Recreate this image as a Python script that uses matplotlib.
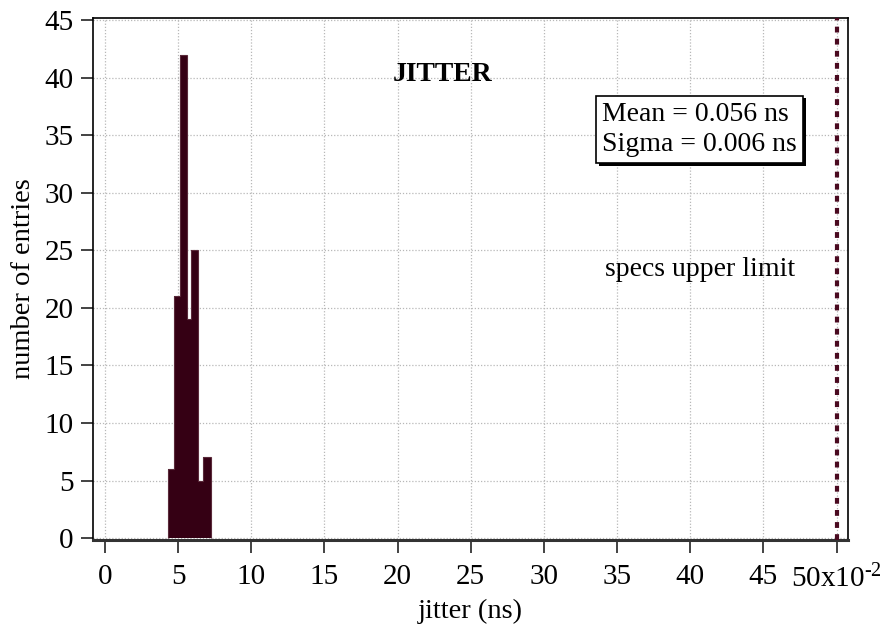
import matplotlib
matplotlib.use("Agg")
import matplotlib.pyplot as plt
import matplotlib.patheffects as pe

plt.rcParams['font.family'] = ['Liberation Serif', 'DejaVu Serif']
plt.rcParams['mathtext.fontset'] = 'custom'
plt.rcParams['mathtext.rm'] = 'Liberation Serif'
plt.rcParams['mathtext.it'] = 'Liberation Serif:italic'

# jitter histogram, x in units of 1e-2 ns
bin_edges = [4.33, 4.74, 5.13, 5.59, 5.88, 6.38, 6.72, 7.23]
counts = [6, 21, 42, 19, 25, 5, 7]
spec_limit = 50
mean_ns = 0.056
sigma_ns = 0.006

x_ticks = [0, 5, 10, 15, 20, 25, 30, 35, 40, 45, 50]
x_labels = [str(t) for t in x_ticks[:-1]] + [r'50x10$^{\text{-}2}$']
y_ticks = [0, 5, 10, 15, 20, 25, 30, 35, 40, 45]

fig = plt.figure(figsize=(8.83, 6.31), dpi=100)
ax = fig.add_axes([0.1053, 0.1442, 0.8551, 0.8273])

bar_col = '#350014'
ax.stairs(counts, bin_edges, fill=True, color=bar_col, zorder=3)
ax.stairs(counts, bin_edges, fill=False, color='#5a2a3a', lw=0.8, zorder=3)

ax.axvline(spec_limit, color='#4a0a20', lw=3.0, linestyle=(0, (1.4, 1.5)), zorder=4)

ax.set_xlim(-0.82, 50.78)
ax.set_ylim(-0.17, 45.19)
ax.set_xticks(x_ticks)
ax.set_xticklabels(x_labels)
ax.set_yticks(y_ticks)

ax.grid(True, color='#b8b8b8', linestyle=(0, (1, 1.5)), lw=0.9, zorder=0)
ax.set_axisbelow(True)

for s in ['top', 'right', 'left']:
    ax.spines[s].set_linewidth(1.2)
    ax.spines[s].set_color('black')
ax.spines['bottom'].set_linewidth(2.2)
ax.spines['bottom'].set_color('#333333')

ax.tick_params(axis='both', direction='out', length=9, width=1.2,
               labelsize=21, color='#222222')
ax.tick_params(axis='x', pad=8.5)
ax.tick_params(axis='y', pad=5)

ax.set_xlabel('jitter (ns)', fontsize=20.5, labelpad=4)
ax.set_ylabel('number of entries', fontsize=20.5, labelpad=6)

ax.text(23.1, 40.3, 'JITTER', fontsize=20, fontweight='bold', ha='center', va='center')
ax.text(40.7, 23.3, 'specs upper limit', fontsize=20, ha='center', va='center')

stats = ax.text(34.0, 35.5, 'Mean = %.3f ns\nSigma = %.3f ns' % (mean_ns, sigma_ns),
                fontsize=20, ha='left', va='center', linespacing=1.3, zorder=5,
                bbox=dict(boxstyle='square,pad=0.22', fc='white', ec='black', lw=1.2))
stats.get_bbox_patch().set_path_effects(
    [pe.SimplePatchShadow(offset=(2, -2), shadow_rgbFace='black', alpha=1.0), pe.Normal()])

fig.savefig('out.png', dpi=100)
